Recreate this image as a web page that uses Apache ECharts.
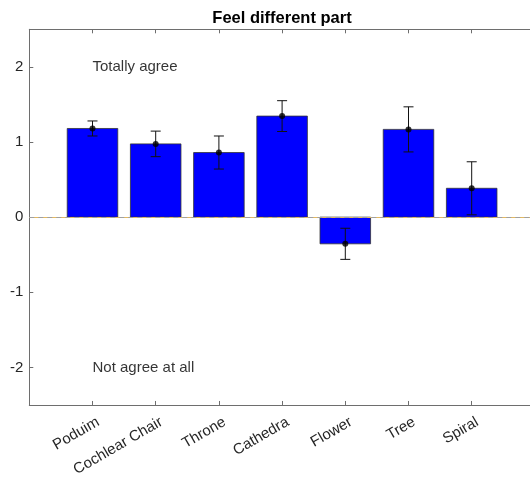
<!DOCTYPE html>
<html>
<head>
<meta charset="utf-8">
<script src="https://cdn.jsdelivr.net/npm/echarts@6/dist/echarts.min.js"></script>
<style>
html,body{margin:0;padding:0;background:#fff;overflow:hidden;width:530px;height:479px;}
#c{width:540px;height:479px;}
</style>
</head>
<body>
<div id="c"></div>
<script>
const categories = ['Poduim', 'Cochlear Chair', 'Throne', 'Cathedra', 'Flower', 'Tree', 'Spiral'];
const means = [1.18, 0.975, 0.86, 1.345, -0.355, 1.168, 0.384];
const errors = [0.10, 0.17, 0.22, 0.205, 0.207, 0.30, 0.353];
const yTicks = [-2, -1, 0, 1, 2];
const noteTexts = ['Totally agree', 'Not agree at all'];
const noteX = [1, 1];
const noteY = [2, -2];
const titleText = 'Feel different part';

const xPos = categories.map((c, i) => i + 1);
const barData = xPos.map((x, i) => [x, means[i]]);
const errData = xPos.map((x, i) => [x, means[i] - errors[i], means[i] + errors[i]]);
const noteData = noteTexts.map((t, i) => ({ value: [noteX[i], noteY[i]], label: { formatter: t } }));

const FONT = 'Liberation Sans, Arial, Helvetica, sans-serif';
const AX = '#6e6e6e';
const labelShift = 0.09;

const chart = echarts.init(document.getElementById('c'), null, { renderer: 'canvas' });
chart.setOption({
  animation: false,
  backgroundColor: '#fff',
  grid: { left: 29.3, top: 29.3, width: 505.6, height: 376.7, containLabel: false },
  graphic: [{
    type: 'text', x: 282, y: 18, z: 100,
    style: { text: titleText, font: 'bold 16.5px ' + FONT, fill: '#000', textAlign: 'center', textVerticalAlign: 'middle' }
  }],
  xAxis: [
    { type: 'value', position: 'bottom', min: 0, max: 8,
      axisLine: { show: true, onZero: false, lineStyle: { color: AX, width: 1 } },
      axisTick: { show: true, inside: true, length: 4, customValues: xPos, lineStyle: { color: AX } },
      axisLabel: { show: false }, splitLine: { show: false } },
    { type: 'value', position: 'top', min: 0, max: 8,
      axisLine: { show: true, onZero: false, lineStyle: { color: AX, width: 1 } },
      axisTick: { show: true, inside: true, length: 4, customValues: xPos, lineStyle: { color: AX } },
      axisLabel: { show: false }, splitLine: { show: false } },
    { type: 'value', position: 'bottom', min: -labelShift, max: 8 - labelShift,
      axisLine: { show: false, onZero: false }, axisTick: { show: false },
      axisLabel: { show: true, customValues: xPos, rotate: 30, margin: 16,
        fontFamily: FONT, fontSize: 15, color: '#262626',
        formatter: v => categories[Math.round(v) - 1] || '' },
      splitLine: { show: false } }
  ],
  yAxis: [
    { type: 'value', position: 'left', min: -2.5, max: 2.5,
      axisLine: { show: true, onZero: false, lineStyle: { color: AX, width: 1 } },
      axisTick: { show: true, inside: true, length: 4, customValues: yTicks, lineStyle: { color: AX } },
      axisLabel: { show: true, customValues: yTicks, margin: 6, fontFamily: FONT, fontSize: 15, color: '#262626' },
      splitLine: { show: false } },
    { type: 'value', position: 'right', min: -2.5, max: 2.5,
      axisLine: { show: true, onZero: false, lineStyle: { color: AX, width: 1 } },
      axisTick: { show: true, inside: true, length: 4, customValues: yTicks, lineStyle: { color: AX } },
      axisLabel: { show: false }, splitLine: { show: false } }
  ],
  series: [
    { type: 'custom', xAxisIndex: 0, yAxisIndex: 0, z: 2, data: barData,
      renderItem: function (params, api) {
        const x = api.value(0), y = api.value(1);
        const p0 = api.coord([x - 0.4, 0]);
        const p1 = api.coord([x + 0.4, y]);
        return { type: 'rect',
          shape: { x: p0[0], y: Math.min(p0[1], p1[1]), width: p1[0] - p0[0], height: Math.abs(p1[1] - p0[1]) },
          style: { fill: '#0000ff', stroke: '#333333', lineWidth: 0.8 } };
      } },
    { type: 'scatter', xAxisIndex: 0, yAxisIndex: 0, z: 3, symbolSize: 0, data: [[0, 0]],
      silent: true,
      markLine: { silent: true, symbol: 'none', label: { show: false },
        data: [
          { yAxis: 0, lineStyle: { color: '#e2b860', type: 'solid', width: 1 } },
          { yAxis: 0, lineStyle: { color: '#a0a0a0', type: [5, 4], width: 1 } }
        ] } },
    { type: 'custom', xAxisIndex: 0, yAxisIndex: 0, z: 4, data: errData,
      renderItem: function (params, api) {
        const x = api.value(0);
        const lo = api.coord([x, api.value(1)]);
        const hi = api.coord([x, api.value(2)]);
        const cap = 5;
        const st = { stroke: '#111', lineWidth: 1 };
        return { type: 'group', children: [
          { type: 'line', shape: { x1: lo[0], y1: lo[1], x2: hi[0], y2: hi[1] }, style: st },
          { type: 'line', shape: { x1: hi[0] - cap, y1: hi[1], x2: hi[0] + cap, y2: hi[1] }, style: st },
          { type: 'line', shape: { x1: lo[0] - cap, y1: lo[1], x2: lo[0] + cap, y2: lo[1] }, style: st }
        ] };
      } },
    { type: 'scatter', xAxisIndex: 0, yAxisIndex: 0, z: 5, data: barData,
      symbol: 'circle', symbolSize: 6, itemStyle: { color: '#000' } },
    { type: 'scatter', xAxisIndex: 0, yAxisIndex: 0, z: 6, data: noteData, symbolSize: 0,
      silent: true,
      label: { show: true, position: 'right', distance: 0, fontFamily: FONT, fontSize: 15, color: '#000' } }
  ]
});
</script>
</body>
</html>
